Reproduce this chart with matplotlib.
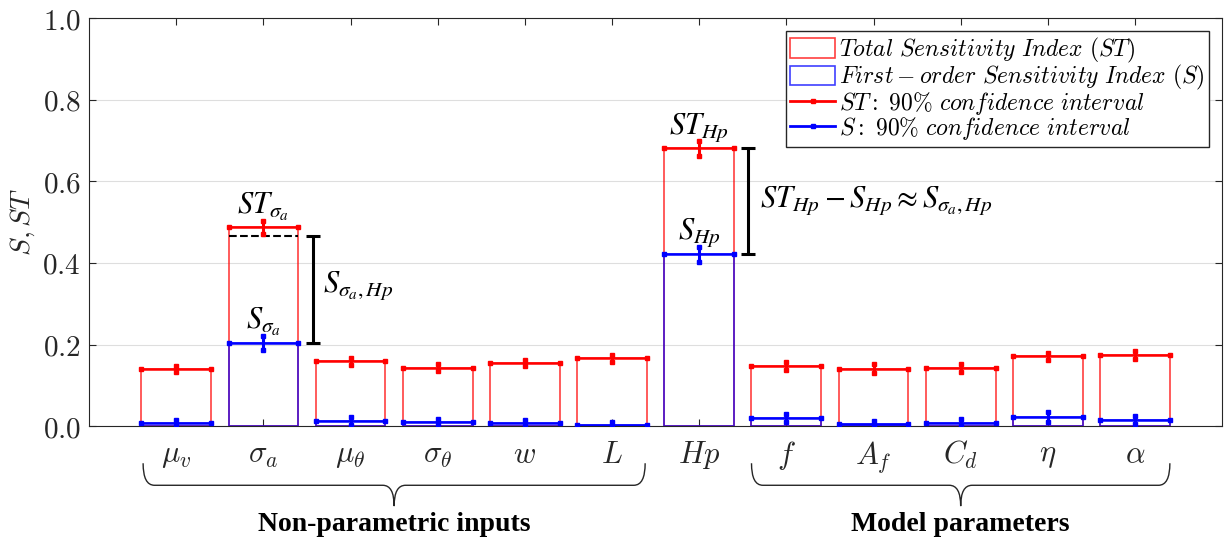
import numpy as np
import matplotlib
matplotlib.use("Agg")
import matplotlib.pyplot as plt
from matplotlib.patches import Patch, PathPatch
from matplotlib.lines import Line2D
from matplotlib.path import Path
from matplotlib.transforms import blended_transform_factory

plt.rcParams["mathtext.fontset"] = "cm"
plt.rcParams["font.family"] = "DejaVu Serif"

# Sobol indices
params = [r"$\mu_v$", r"$\sigma_a$", r"$\mu_\theta$", r"$\sigma_\theta$", r"$w$", r"$L$",
          r"$Hp$", r"$f$", r"$A_f$", r"$C_d$", r"$\eta$", r"$\alpha$"]
st_vals = [0.140, 0.487, 0.159, 0.143, 0.155, 0.166, 0.681, 0.148, 0.141, 0.143, 0.171, 0.174]
s_vals = [0.007, 0.204, 0.012, 0.010, 0.008, 0.002, 0.421, 0.019, 0.004, 0.008, 0.022, 0.015]
# half-width of the 90% confidence intervals
st_ci = [0.008, 0.015, 0.009, 0.008, 0.008, 0.008, 0.018, 0.010, 0.010, 0.010, 0.009, 0.010]
s_ci = [0.009, 0.017, 0.010, 0.008, 0.007, 0.007, 0.018, 0.010, 0.008, 0.010, 0.012, 0.009]
s_sigma_hp_top = 0.466  # dashed line on sigma_a bar

x = np.arange(1, len(params) + 1)
w = 0.8
dark = "#262626"

fig = plt.figure(figsize=(12.25, 5.47), dpi=100)
ax = fig.add_axes([0.0727, 0.221, 0.925, 0.746])

# bars (outline only)
ax.bar(x, st_vals, width=w, fill=False, edgecolor=(1, 0, 0, 0.75), linewidth=1.2, zorder=2)
ax.bar(x, s_vals, width=w, fill=False, edgecolor=(0, 0, 1, 0.75), linewidth=1.2, zorder=3)

for xi, v, e in zip(x, st_vals, st_ci):
    ax.plot([xi - w / 2, xi + w / 2], [v, v], color="red", lw=1.8, marker="s", ms=3, zorder=4)
    ax.plot([xi, xi], [v - e, v + e], color="red", lw=2.2, marker="s", ms=3.2, zorder=5)
for xi, v, e in zip(x, s_vals, s_ci):
    ax.plot([xi - w / 2, xi + w / 2], [v, v], color="blue", lw=1.8, marker="s", ms=3, zorder=4)
    ax.plot([xi, xi], [max(v - e, 0), v + e], color="blue", lw=2.2, marker="s", ms=3.2, zorder=5)

# interaction annotations
ax.plot([2 - w / 2, 2 + w / 2], [s_sigma_hp_top, s_sigma_hp_top], "k--", lw=1.5, zorder=4)
ax.errorbar(2.57, (s_sigma_hp_top + s_vals[1]) / 2, yerr=(s_sigma_hp_top - s_vals[1]) / 2,
            color="k", lw=2.2, capsize=5, capthick=2.2)
ax.errorbar(7.56, (st_vals[6] + s_vals[6]) / 2, yerr=(st_vals[6] - s_vals[6]) / 2,
            color="k", lw=2.2, capsize=5, capthick=2.2)

tk = dict(math_fontfamily="stix", fontsize=22, color="k")
ax.text(2, st_vals[1] + 0.01, r"$ST_{\sigma_a}$", ha="center", va="bottom", **tk)
ax.text(2, s_vals[1] + 0.012, r"$S_{\sigma_a}$", ha="center", va="bottom", **tk)
ax.text(2.68, 0.345, r"$S_{\sigma_a,Hp}$", ha="left", va="center", **tk)
ax.text(7, st_vals[6] + 0.01, r"$ST_{Hp}$", ha="center", va="bottom", **tk)
ax.text(7, s_vals[6] + 0.012, r"$S_{Hp}$", ha="center", va="bottom", **tk)
ax.text(7.7, 0.553, r"$ST_{Hp} - S_{Hp} \approx S_{\sigma_a,Hp}$", ha="left", va="center", **tk)

# axes styling
ax.set_xlim(0, 13)
ax.set_ylim(0, 1)
ax.set_xticks(x)
ax.set_xticklabels(params, fontsize=22, color=dark)
ax.set_yticks(np.arange(0, 1.01, 0.2))
ax.set_yticklabels([r"$%.1f$" % t for t in np.arange(0, 1.01, 0.2)], fontsize=21, color=dark)
ax.tick_params(axis="both", direction="in", top=True, right=True, length=5, color=dark)
ax.tick_params(axis="x", pad=9)
ax.tick_params(axis="y", pad=6)
ax.yaxis.grid(True, color="#dedede", lw=0.8)
ax.set_axisbelow(True)
for sp in ax.spines.values():
    sp.set_color(dark)
ax.set_ylabel(r"$S, ST$", fontsize=20, color=dark, labelpad=4)

handles = [Patch(facecolor="none", edgecolor=(1, 0, 0, 0.75), lw=1.2),
           Patch(facecolor="none", edgecolor=(0, 0, 1, 0.75), lw=1.2),
           Line2D([0], [0], color="red", lw=2, marker="s", ms=3),
           Line2D([0], [0], color="blue", lw=2, marker="s", ms=3)]
legend_labels = [r"$Total\ Sensitivity\ Index\ (ST)$",
                 r"$First-order\ Sensitivity\ Index\ (S)$",
                 r"$ST:\ 90\%\ confidence\ interval$",
                 r"$S:\ 90\%\ confidence\ interval$"]
leg = ax.legend(handles, legend_labels, loc="upper right", fontsize=17, fancybox=False,
                framealpha=1, edgecolor=dark, borderaxespad=0.55, handlelength=1.9,
                handleheight=0.9, handletextpad=0.15, labelspacing=-0.08, borderpad=0.2)
leg.get_frame().set_linewidth(1.0)

# group braces under the tick labels
trans = blended_transform_factory(ax.transData, ax.transAxes)


def brace(x0, x1, y0=-0.091, y1=-0.145, y2=-0.196, r=0.13):
    xm = (x0 + x1) / 2
    verts = [(x0, y0), (x0, y1), (x0 + r, y1), (xm - r, y1), (xm, y1), (xm, y2),
             (xm, y1), (xm + r, y1), (x1 - r, y1), (x1, y1), (x1, y0)]
    codes = [Path.MOVETO, Path.CURVE3, Path.CURVE3, Path.LINETO, Path.CURVE3, Path.CURVE3,
             Path.CURVE3, Path.CURVE3, Path.LINETO, Path.CURVE3, Path.CURVE3]
    ax.add_patch(PathPatch(Path(verts, codes), fill=False, lw=1.0, edgecolor=dark,
                           transform=trans, clip_on=False))


brace(0.62, 6.38)
brace(7.6, 12.4)
ax.text(3.5, -0.24, "Non-parametric inputs", transform=trans, ha="center", va="center",
        fontsize=20, fontweight="bold", family="Liberation Serif")
ax.text(10.0, -0.24, "Model parameters", transform=trans, ha="center", va="center",
        fontsize=20, fontweight="bold", family="Liberation Serif")

fig.savefig("out.png", dpi=100)
